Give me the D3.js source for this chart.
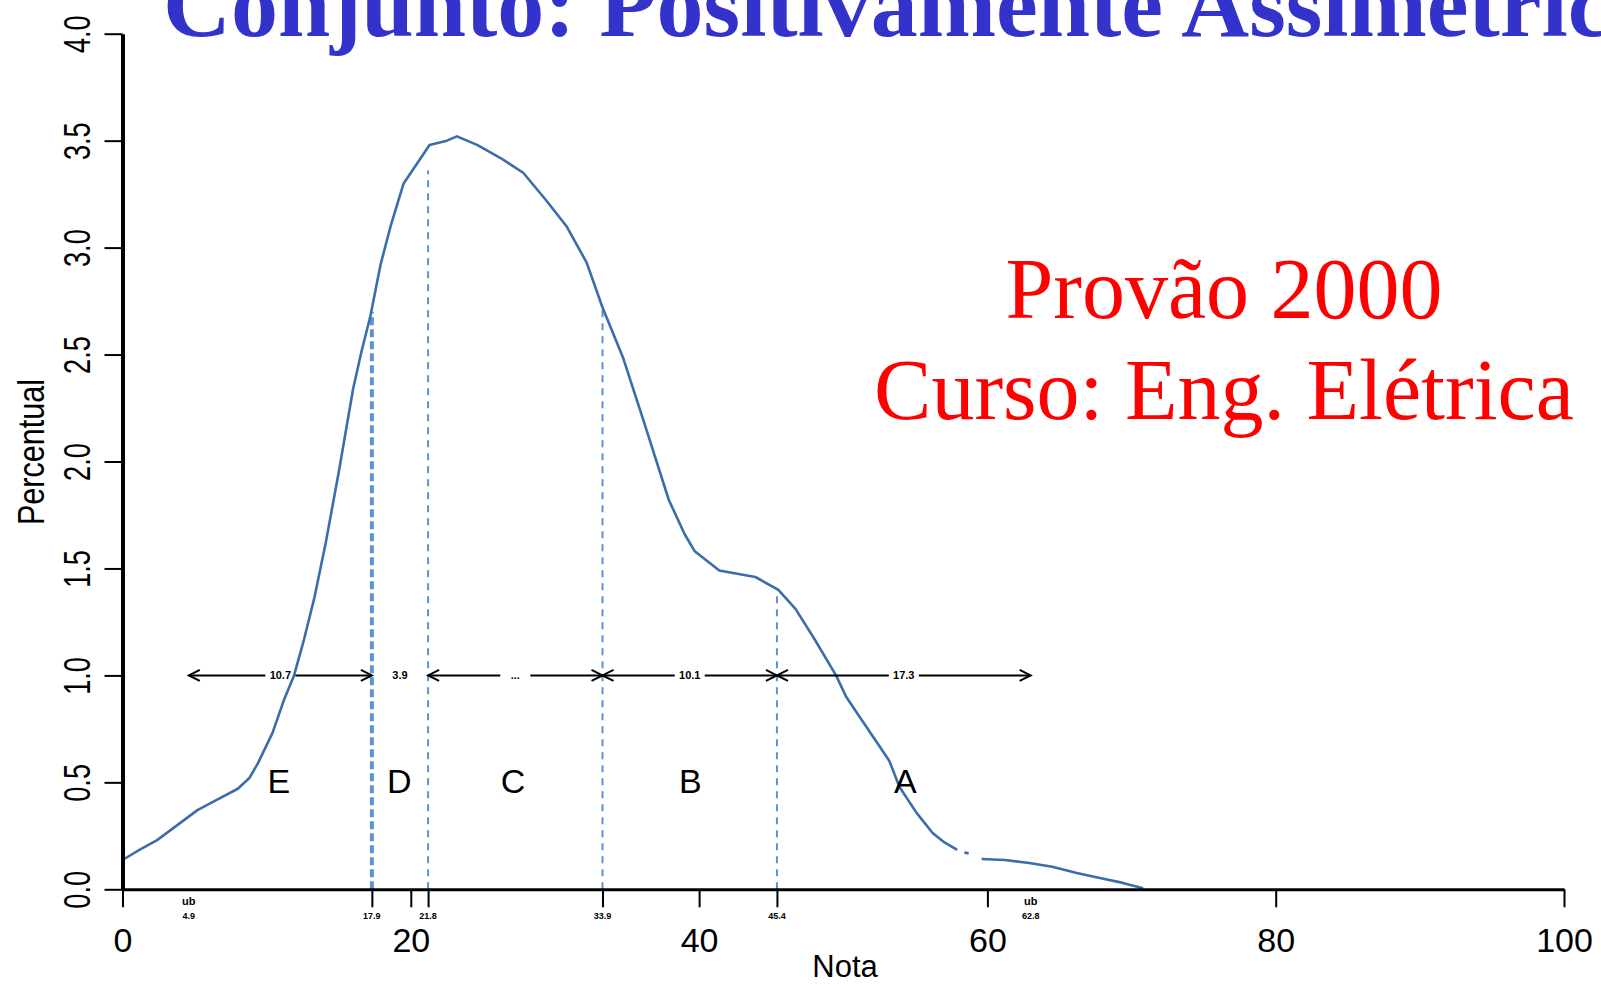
<!DOCTYPE html>
<html>
<head>
<meta charset="utf-8">
<script src="https://cdn.jsdelivr.net/npm/d3@7"></script>
<style>
  html, body { margin: 0; padding: 0; background: #fff; overflow: hidden; }
  svg { display: block; }
</style>
</head>
<body>
<script>
// ---------- data ----------
const titleText = "Conjunto: Positivamente Assimétrico";
const noteLines = ["Provão 2000", "Curso: Eng. Elétrica"];
const xLabel = "Nota";
const yLabel = "Percentual";

// density curve (null = gap in the line)
const notaValues = [0, 1.2, 2.4, 3.8, 5.2, 6.6, 8.0, 8.8, 9.4, 10.4, 11.2, 11.9, 12.6, 13.3, 14.1, 15.0, 16.0, 16.6, 17.2, 17.9, 18.6, 19.5, 20.6, 21.3, 22.5, 23.2, 24.6, 26.2, 27.8, 29.4, 30.8, 32.2, 33.3, 34.7, 36.1, 37.9, 39.0, 39.7, 41.4, 43.9, 45.5, 46.7, 48.0, 49.5, 50.2, 51.2, 52.2, 53.2, 53.9, 55.1, 56.2, 57.0, 57.9, null, 58.4, 58.7, null, 59.6, 61.2, 62.9, 64.5, 66.2, 67.8, 69.4, 70.8];
const percentValues = [0.137, 0.185, 0.23, 0.30, 0.37, 0.42, 0.47, 0.52, 0.59, 0.73, 0.885, 1.0, 1.17, 1.36, 1.62, 1.95, 2.34, 2.52, 2.68, 2.92, 3.10, 3.30, 3.41, 3.48, 3.50, 3.52, 3.48, 3.42, 3.35, 3.22, 3.10, 2.93, 2.72, 2.49, 2.20, 1.82, 1.66, 1.58, 1.49, 1.46, 1.40, 1.31, 1.17, 1.00, 0.90, 0.80, 0.70, 0.60, 0.478, 0.356, 0.263, 0.22, 0.184, null, 0.172, 0.168, null, 0.142, 0.137, 0.123, 0.105, 0.076, 0.053, 0.03, 0.005];

// grade cut points
const cutPoints = [17.3, 21.2, 33.3, 45.4];
const cutTops = [2.70, 3.36, 2.72, 1.40];
const cutLabels = ["17.9", "21.8", "33.9", "45.4"];
const limitPoints = [4.6, 63.0];
const limitLabels = ["4.9", "62.8"];
const limitMarks = ["ub", "ub"];

// grade spans (arrows at level 1.0)
const gradeLetters = ["E", "D", "C", "B", "A"];
const gradeStarts = [4.6, 17.3, 21.2, 33.3, 45.4];
const gradeEnds = [17.3, 21.2, 33.3, 45.4, 63.0];
const spanLabels = ["10.7", "3.9", "...", "10.1", "17.3"];
const letterPositions = [10.85, 19.2, 27.1, 39.4, 54.3];
const arrowLevel = 1.0;
const letterLevel = 0.45;

// axes
const xTicks = [0, 20, 40, 60, 80, 100];
const yTicks = [0, 0.5, 1.0, 1.5, 2.0, 2.5, 3.0, 3.5, 4.0];

// ---------- drawing ----------
const W = 1601, H = 985;
const svg = d3.select("body").append("svg").attr("width", W).attr("height", H);

const x = d3.scaleLinear().domain([0, 100]).range([122.5, 1564]);
const y = d3.scaleLinear().domain([0, 4]).range([889.3, 33.7]);

const sans = "'Liberation Sans', Arial, Helvetica, sans-serif";
const serif = "'Liberation Serif', 'Times New Roman', Times, serif";

// title (clipped at top like reference)
svg.append("text")
  .attr("x", 163).attr("y", 36)
  .attr("font-family", serif).attr("font-weight", "bold")
  .attr("font-size", 94).attr("fill", "#3333cc")
  .text(titleText);

// dashed cut lines
const dashColor = "#5b93d3";
svg.append("g").selectAll("line").data(cutPoints).join("line")
  .attr("x1", d => x(d)).attr("x2", d => x(d))
  .attr("y1", y(0)).attr("y2", (d, i) => y(cutTops[i]))
  .attr("stroke", dashColor)
  .attr("stroke-width", (d, i) => i === 0 ? 4 : 2)
  .attr("stroke-dasharray", (d, i) => i === 0 ? "8,4" : "7,6");

// curve
const pts = notaValues.map((v, i) => [v, percentValues[i]]);
const line = d3.line()
  .defined(d => d[0] !== null && d[1] !== null)
  .x(d => x(d[0])).y(d => y(d[1]));
svg.append("path").datum(pts)
  .attr("d", line).attr("fill", "none")
  .attr("stroke", "#3b6ea8").attr("stroke-width", 2.6)
  .attr("stroke-linejoin", "round");

// x axis
const xAxis = d3.axisBottom(x).tickValues(xTicks).tickSize(18).tickSizeOuter(0).tickPadding(0)
  .tickFormat(d3.format("d"));
const gx = svg.append("g").attr("transform", `translate(0,${y(0)})`).call(xAxis);
gx.select(".domain").attr("stroke", "#000").attr("stroke-width", 3);
gx.selectAll(".tick line").attr("stroke", "#000").attr("stroke-width", 2);
gx.selectAll(".tick text").attr("font-family", sans).attr("font-size", 34).attr("fill", "#000")
  .attr("dy", null).attr("y", 952 - y(0));

// extra ticks at cut points
const cutAxis = d3.axisBottom(x).tickValues(cutPoints).tickSize(18).tickFormat("");
const gc = svg.append("g").attr("transform", `translate(0,${y(0)})`).call(cutAxis);
gc.select(".domain").remove();
gc.selectAll(".tick line").attr("stroke", "#000").attr("stroke-width", 2);

// small cut labels under axis
svg.append("g").selectAll("text").data(cutPoints.concat(limitPoints)).join("text")
  .attr("x", d => x(d)).attr("y", 919)
  .attr("text-anchor", "middle")
  .attr("font-family", sans).attr("font-weight", "bold").attr("font-size", 9)
  .attr("fill", "#000")
  .text((d, i) => cutLabels.concat(limitLabels)[i]);
svg.append("g").selectAll("text").data(limitPoints).join("text")
  .attr("x", d => x(d)).attr("y", 905)
  .attr("text-anchor", "middle")
  .attr("font-family", sans).attr("font-weight", "bold").attr("font-size", 11)
  .attr("fill", "#000")
  .text((d, i) => limitMarks[i]);

// y axis
const yAxis = d3.axisLeft(y).tickValues(yTicks).tickSize(18).tickSizeOuter(0)
  .tickFormat(d3.format(".1f"));
const gy = svg.append("g").attr("transform", `translate(${x(0)},0)`).call(yAxis);
gy.select(".domain").attr("stroke", "#000").attr("stroke-width", 4);
gy.selectAll(".tick line").attr("stroke", "#000").attr("stroke-width", 2);
gy.selectAll(".tick text")
  .attr("font-family", sans).attr("font-size", 34).attr("fill", "#000")
  .attr("x", null).attr("dy", null).attr("text-anchor", "middle")
  .attr("transform", `translate(${90 - x(0)},0) rotate(-90) scale(0.8,1.09)`);

// axis titles
svg.append("text").attr("x", 845).attr("y", 977)
  .attr("text-anchor", "middle").attr("font-family", sans).attr("font-size", 31)
  .attr("fill", "#000").text(xLabel);
svg.append("text")
  .attr("transform", `translate(44,452) rotate(-90) scale(0.9,1.09)`)
  .attr("text-anchor", "middle").attr("font-family", sans).attr("font-size", 34)
  .attr("fill", "#000").text(yLabel);

// grade arrows
const ay = y(arrowLevel);
const gapHalf = 15, headLen = 11, headHalf = 5.5;
const ga = svg.append("g").attr("stroke", "#000").attr("fill", "none").attr("stroke-width", 2);
gradeStarts.forEach((s, i) => {
  const x0 = x(s), x1 = x(gradeEnds[i]);
  const xm = (x0 + x1) / 2;
  if (xm - gapHalf - x0 > 15) {
    ga.append("line").attr("x1", x0).attr("x2", xm - gapHalf).attr("y1", ay).attr("y2", ay);
    ga.append("line").attr("x1", xm + gapHalf).attr("x2", x1).attr("y1", ay).attr("y2", ay);
    ga.append("path").attr("d", `M${x0 + headLen},${ay - headHalf}L${x0},${ay}L${x0 + headLen},${ay + headHalf}`);
    ga.append("path").attr("d", `M${x1 - headLen},${ay - headHalf}L${x1},${ay}L${x1 - headLen},${ay + headHalf}`);
  }
});
svg.append("g").selectAll("text").data(spanLabels).join("text")
  .attr("x", (d, i) => x((gradeStarts[i] + gradeEnds[i]) / 2))
  .attr("y", ay + 4)
  .attr("text-anchor", "middle")
  .attr("font-family", sans).attr("font-weight", "bold").attr("font-size", 11)
  .attr("fill", "#000")
  .text(d => d);

// grade letters
svg.append("g").selectAll("text").data(gradeLetters).join("text")
  .attr("x", (d, i) => x(letterPositions[i]))
  .attr("y", y(letterLevel))
  .attr("text-anchor", "middle")
  .attr("font-family", sans).attr("font-size", 34).attr("fill", "#000")
  .text(d => d);

// red note
svg.append("g").selectAll("text").data(noteLines).join("text")
  .attr("x", 1224).attr("y", (d, i) => i === 0 ? 318 : 419)
  .attr("text-anchor", "middle")
  .attr("font-family", serif).attr("font-size", 86).attr("fill", "#ff0000")
  .text(d => d);
</script>
</body>
</html>
